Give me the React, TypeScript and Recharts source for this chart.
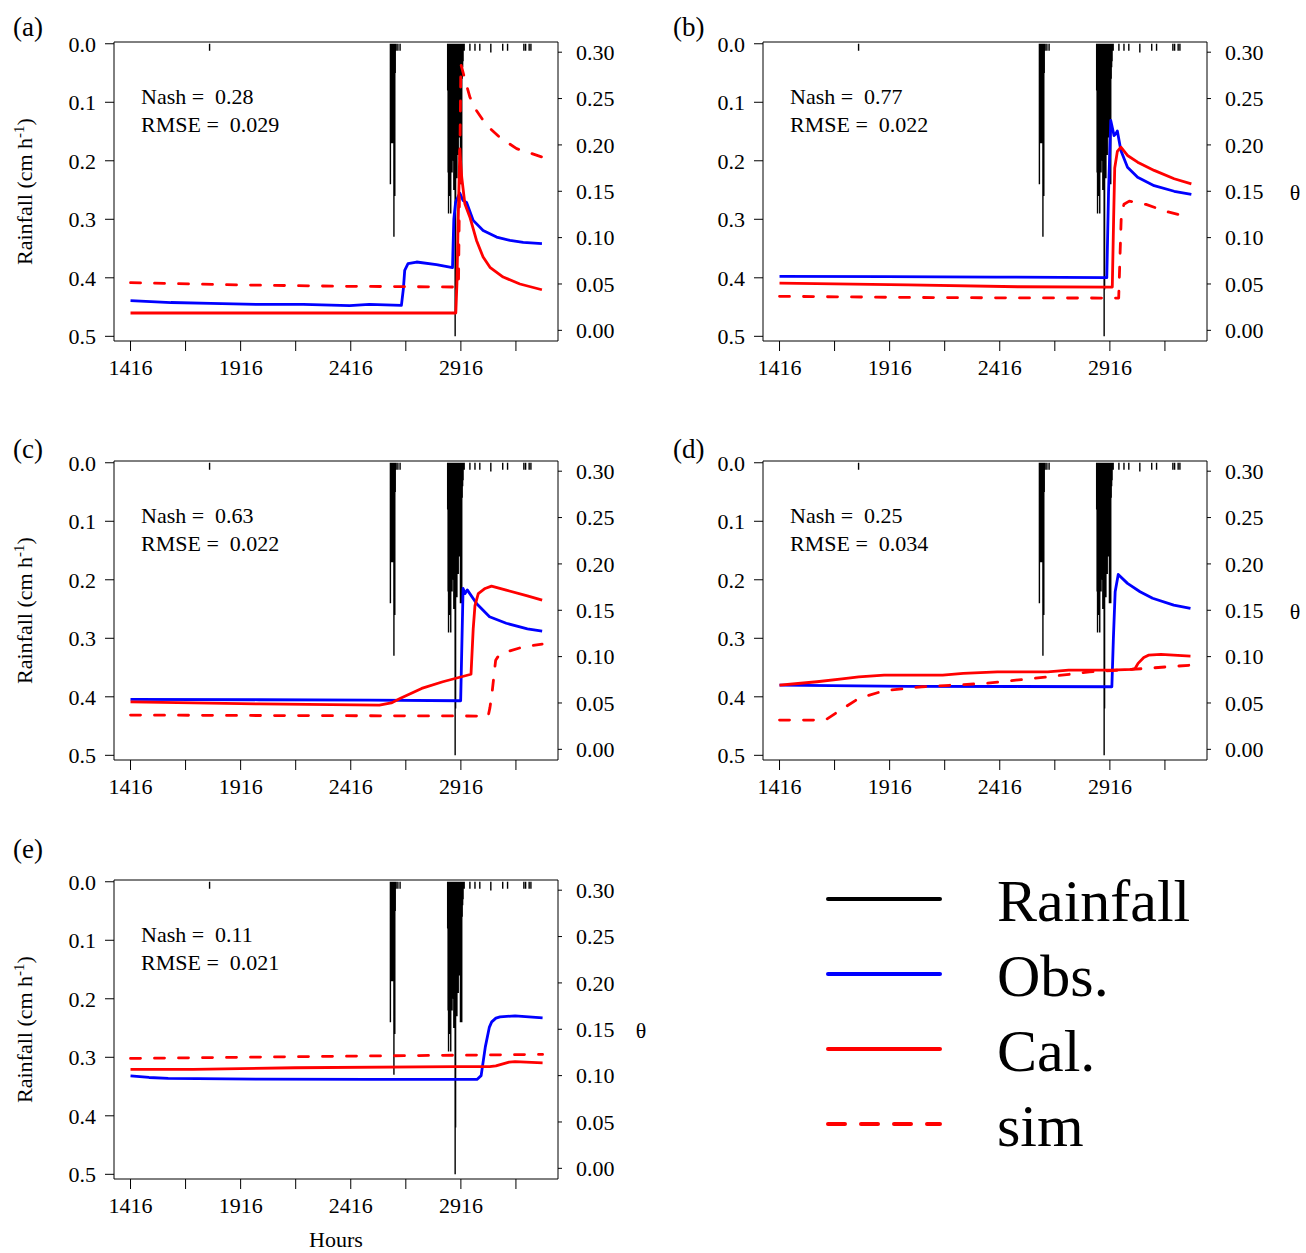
import React from 'react';
import { ComposedChart, Line, XAxis, YAxis, ReferenceLine } from 'recharts';

type Pt = [number, number];

const FONT = '"Liberation Serif", "Times New Roman", serif';

// axes
const hourTicks = [1416, 1666, 1916, 2166, 2416, 2666, 2916, 3166];
const hourLabels = [1416, 1916, 2416, 2916];
const rainTicks = [0, 0.1, 0.2, 0.3, 0.4, 0.5];
const thetaTicks = [0, 0.05, 0.1, 0.15, 0.2, 0.25, 0.3];

const HOUR_DOMAIN: [number, number] = [1341, 3357];
const RAIN_DOMAIN: [number, number] = [-0.003, 0.508];
const THETA_DOMAIN: [number, number] = [-0.0115, 0.311];

// rainfall (cm/h) - same record in every panel
const rainfall: Pt[] = [
  [1775, 0.012],
  [2596, 0.24], [2598, 0.17], [2600, 0.16], [2602, 0.17], [2604, 0.15], [2606, 0.17],
  [2608, 0.16], [2610, 0.17], [2612, 0.33], [2614, 0.17], [2616, 0.26], [2618, 0.05],
  [2622, 0.012], [2630, 0.012], [2640, 0.012],
  [2856, 0.08], [2858, 0.22], [2860, 0.29], [2862, 0.12], [2864, 0.2], [2866, 0.26],
  [2868, 0.15], [2870, 0.29], [2872, 0.1], [2874, 0.18], [2876, 0.22], [2878, 0.14],
  [2880, 0.2], [2882, 0.12], [2884, 0.25], [2886, 0.16], [2888, 0.22], [2890, 0.5],
  [2892, 0.42], [2894, 0.2], [2896, 0.13], [2898, 0.23], [2900, 0.09], [2902, 0.15],
  [2904, 0.19], [2906, 0.07], [2908, 0.12], [2910, 0.16], [2912, 0.08], [2914, 0.24],
  [2916, 0.06], [2918, 0.14], [2920, 0.24], [2922, 0.06], [2924, 0.04], [2926, 0.03],
  [2931, 0.012], [2957, 0.012], [2980, 0.012], [3002, 0.012], [3052, 0.015],
  [3106, 0.012], [3128, 0.012], [3202, 0.012], [3210, 0.012], [3226, 0.012], [3234, 0.012],
];

// soil moisture theta, panel (a)
const obsA: Pt[] = [
  [1416, 0.032], [1600, 0.030], [1780, 0.029], [2000, 0.028], [2200, 0.028], [2411, 0.0266],
  [2500, 0.028], [2646, 0.027], [2655, 0.045], [2661, 0.0647], [2676, 0.0719], [2715, 0.0737],
  [2805, 0.0708], [2878, 0.0676], [2884, 0.12], [2892, 0.138], [2911, 0.148], [2926, 0.14],
  [2942, 0.138], [2972, 0.1186], [3017, 0.1078], [3078, 0.1006], [3139, 0.097], [3199, 0.0949],
  [3284, 0.0935],
];
const calA: Pt[] = [
  [1416, 0.0187], [2893, 0.0187], [2898, 0.05], [2903, 0.11], [2911, 0.194], [2920, 0.165],
  [2934, 0.1366], [2957, 0.122], [2987, 0.097], [3017, 0.079], [3048, 0.068], [3108, 0.0575],
  [3184, 0.05], [3284, 0.0438],
];
const simA: Pt[] = [
  [1416, 0.0514], [1900, 0.049], [2400, 0.0475], [2905, 0.0467], [2916, 0.287], [2934, 0.271],
  [2957, 0.2515], [2987, 0.237], [3033, 0.221], [3093, 0.208], [3169, 0.196], [3284, 0.187],
];

// panel (b)
const obsB: Pt[] = [
  [1416, 0.0582], [1900, 0.058], [2400, 0.0575], [2902, 0.0568], [2910, 0.15], [2920, 0.2264],
  [2935, 0.21], [2943, 0.212], [2950, 0.215], [2966, 0.194], [2996, 0.176], [3042, 0.165],
  [3117, 0.156], [3208, 0.15], [3286, 0.1466],
];
const calB: Pt[] = [
  [1416, 0.051], [2000, 0.049], [2500, 0.047], [2927, 0.0467], [2933, 0.12], [2938, 0.175],
  [2950, 0.193], [2966, 0.1976], [2996, 0.1886], [3042, 0.1814], [3117, 0.1725], [3208, 0.1635],
  [3286, 0.158],
];
const simB: Pt[] = [
  [1416, 0.0367], [2000, 0.0355], [2500, 0.035], [2956, 0.0348], [2962, 0.08], [2968, 0.125],
  [2980, 0.136], [3004, 0.1394], [3080, 0.1358], [3175, 0.128], [3286, 0.1215],
];

// panel (c)
const obsC: Pt[] = [
  [1416, 0.0539], [2000, 0.0535], [2500, 0.053], [2915, 0.0524], [2926, 0.1735], [2935, 0.168],
  [2945, 0.172], [2988, 0.157], [3046, 0.143], [3122, 0.136], [3218, 0.13], [3285, 0.1275],
];
const calC: Pt[] = [
  [1416, 0.0513], [2000, 0.049], [2546, 0.0477], [2600, 0.05], [2642, 0.055], [2738, 0.0657],
  [2834, 0.0729], [2962, 0.081], [2972, 0.13], [2980, 0.155], [2995, 0.168], [3026, 0.1735],
  [3055, 0.176], [3122, 0.1717], [3218, 0.1655], [3285, 0.161],
];
const simC: Pt[] = [
  [1416, 0.037], [2000, 0.0365], [3040, 0.0359], [3048, 0.045], [3058, 0.062], [3074, 0.0962],
  [3090, 0.102], [3122, 0.105], [3199, 0.1105], [3285, 0.1135],
];

// panel (d)
const obsD: Pt[] = [
  [1416, 0.0693], [2000, 0.068], [2500, 0.0678], [2925, 0.0675], [2932, 0.12], [2940, 0.17],
  [2954, 0.1886], [2996, 0.179], [3053, 0.17], [3110, 0.163], [3206, 0.1555], [3282, 0.152],
];
const calD: Pt[] = [
  [1416, 0.0693], [1500, 0.071], [1586, 0.0729], [1700, 0.076], [1776, 0.0782], [1891, 0.08],
  [2157, 0.08], [2250, 0.082], [2405, 0.0836], [2634, 0.0836], [2729, 0.0855], [2920, 0.0855],
  [3015, 0.0862], [3030, 0.087], [3044, 0.0927], [3070, 0.099], [3091, 0.1016], [3148, 0.1024],
  [3282, 0.1005],
];
const simD: Pt[] = [
  [1416, 0.0316], [1624, 0.0316], [1681, 0.0405], [1776, 0.055], [1891, 0.0632], [2062, 0.0675],
  [2348, 0.0711], [2634, 0.0782], [2824, 0.0836], [3015, 0.0862], [3282, 0.0908],
];

// panel (e)
const obsE: Pt[] = [
  [1416, 0.0998], [1500, 0.098], [1587, 0.097], [2000, 0.0962], [2500, 0.096], [2989, 0.0959],
  [3008, 0.1], [3027, 0.131], [3045, 0.152], [3056, 0.158], [3075, 0.162], [3094, 0.1634],
  [3162, 0.1645], [3287, 0.1623],
];
const calE: Pt[] = [
  [1416, 0.1067], [1700, 0.1067], [2163, 0.1085], [2893, 0.1096], [3047, 0.1096], [3075, 0.1105],
  [3103, 0.1124], [3135, 0.1145], [3162, 0.115], [3287, 0.1138],
];
const simE: Pt[] = [
  [1416, 0.1186], [2000, 0.12], [2500, 0.1212], [3000, 0.1222], [3287, 0.1229],
];

const panelNames = ['(a)', '(b)', '(c)', '(d)', '(e)'];
const nashValues = ['0.28', '0.77', '0.63', '0.25', '0.11'];
const rmseValues = ['0.029', '0.022', '0.022', '0.034', '0.021'];
const obsSeries = [obsA, obsB, obsC, obsD, obsE];
const calSeries = [calA, calB, calC, calD, calE];
const simSeries = [simA, simB, simC, simD, simE];

const legendNames = ['Rainfall', 'Obs.', 'Cal.', 'sim'];
const legendColors = ['#000000', '#0000ff', '#ff0000', '#ff0000'];

// layout (page pixels)
const BOX_W = 444;
const BOX_H = 299;
const LEFT_W = 100;
const RIGHT_W = 90;
const TOP_M = 10;
const BOTTOM_H = 60;
const boxes = [
  { x: 114, y: 42 },
  { x: 763, y: 42 },
  { x: 114, y: 461 },
  { x: 763, y: 461 },
  { x: 114, y: 880 },
];
const letterPos = [
  { x: 13, y: 36 },
  { x: 673, y: 36 },
  { x: 13, y: 458 },
  { x: 673, y: 458 },
  { x: 13, y: 858 },
];

const toRows = (pts: Pt[]) => pts.map(([h, v]) => ({ h, v }));
const rainRows = rainfall.flatMap(([h, r]) => [
  { h, v: 0 },
  { h, v: r },
  { h, v: null },
]);

const tickStyle = { fill: '#000', fontSize: 22, fontFamily: FONT };

function Panel({ idx }: { idx: number }) {
  const box = boxes[idx];
  return (
    <div style={{ position: 'absolute', left: box.x - LEFT_W, top: box.y - TOP_M }}>
      <ComposedChart
        width={LEFT_W + BOX_W + RIGHT_W}
        height={TOP_M + BOX_H + BOTTOM_H}
        margin={{ top: TOP_M, right: 0, bottom: 0, left: 0 }}
      >
        <XAxis
          xAxisId="h"
          dataKey="h"
          type="number"
          domain={HOUR_DOMAIN}
          allowDataOverflow
          ticks={hourTicks}
          interval={0}
          tickFormatter={(h: number) => (hourLabels.includes(h) ? String(h) : '')}
          tickSize={10}
          tickMargin={8}
          height={BOTTOM_H}
          stroke="#000"
          tick={tickStyle}
        />
        <YAxis
          yAxisId="rain"
          orientation="left"
          reversed
          type="number"
          domain={RAIN_DOMAIN}
          allowDataOverflow
          ticks={rainTicks}
          interval={0}
          tickFormatter={(v: number) => v.toFixed(1)}
          width={LEFT_W}
          tickSize={9}
          tickMargin={9}
          stroke="#000"
          tick={tickStyle}
        />
        <YAxis
          yAxisId="theta"
          orientation="right"
          type="number"
          domain={THETA_DOMAIN}
          allowDataOverflow
          ticks={thetaTicks}
          interval={0}
          tickFormatter={(v: number) => v.toFixed(2)}
          width={RIGHT_W}
          tickSize={4}
          tickMargin={14}
          stroke="#000"
          tick={tickStyle}
        />
        <ReferenceLine xAxisId="h" yAxisId="rain" y={RAIN_DOMAIN[0]} stroke="#000" strokeWidth={1} />
        <Line
          xAxisId="h"
          yAxisId="rain"
          data={rainRows}
          dataKey="v"
          stroke="#000"
          strokeWidth={1.4}
          dot={false}
          activeDot={false}
          isAnimationActive={false}
        />
        <Line
          xAxisId="h"
          yAxisId="theta"
          data={toRows(obsSeries[idx])}
          dataKey="v"
          stroke="#0000ff"
          strokeWidth={2.8}
          strokeLinejoin="round"
          dot={false}
          activeDot={false}
          isAnimationActive={false}
        />
        <Line
          xAxisId="h"
          yAxisId="theta"
          data={toRows(calSeries[idx])}
          dataKey="v"
          stroke="#ff0000"
          strokeWidth={2.8}
          strokeLinejoin="round"
          dot={false}
          activeDot={false}
          isAnimationActive={false}
        />
        <Line
          xAxisId="h"
          yAxisId="theta"
          data={toRows(simSeries[idx])}
          dataKey="v"
          stroke="#ff0000"
          strokeWidth={2.8}
          strokeDasharray="10 14"
          strokeLinecap="round"
          strokeLinejoin="round"
          dot={false}
          activeDot={false}
          isAnimationActive={false}
        />
      </ComposedChart>
    </div>
  );
}

function Annotations() {
  return (
    <svg
      width={1306}
      height={1253}
      style={{ position: 'absolute', left: 0, top: 0, pointerEvents: 'none' }}
      fontFamily={FONT}
    >
      {boxes.map((b, i) => (
        <g key={i}>
          <text x={letterPos[i].x} y={letterPos[i].y} fontSize={27}>
            {panelNames[i]}
          </text>
          <text x={b.x + 27} y={b.y + 62} fontSize={22} style={{ whiteSpace: 'pre' }}>
            {`Nash =  ${nashValues[i]}`}
          </text>
          <text x={b.x + 27} y={b.y + 90} fontSize={22} style={{ whiteSpace: 'pre' }}>
            {`RMSE =  ${rmseValues[i]}`}
          </text>
          {b.x < 400 && (
            <text
              transform={`translate(32, ${b.y + BOX_H / 2}) rotate(-90)`}
              textAnchor="middle"
              fontSize={22}
            >
              Rainfall (cm h
              <tspan dy={-8} fontSize={15}>-1</tspan>
              <tspan dy={8}>)</tspan>
            </text>
          )}
        </g>
      ))}
      <text x={1295} y={200} fontSize={22} textAnchor="middle">θ</text>
      <text x={1295} y={619} fontSize={22} textAnchor="middle">θ</text>
      <text x={641} y={1038} fontSize={22} textAnchor="middle">θ</text>
      <text x={336} y={1247} fontSize={22} textAnchor="middle">Hours</text>

      {legendNames.map((name, i) => {
        const y = 899 + i * 75;
        return (
          <g key={name}>
            <line
              x1={828}
              x2={940}
              y1={y}
              y2={y}
              stroke={legendColors[i]}
              strokeWidth={4}
              strokeLinecap="round"
              strokeDasharray={i === 3 ? '17 16' : undefined}
            />
            <text x={997} y={y + 22} fontSize={60}>
              {name}
            </text>
          </g>
        );
      })}
    </svg>
  );
}

export default function App() {
  return (
    <div
      style={{
        position: 'absolute',
        left: 0,
        top: 0,
        width: 1306,
        height: 1253,
        background: '#fff',
        fontFamily: FONT,
      }}
    >
      {boxes.map((_, i) => (
        <Panel key={i} idx={i} />
      ))}
      <Annotations />
    </div>
  );
}
